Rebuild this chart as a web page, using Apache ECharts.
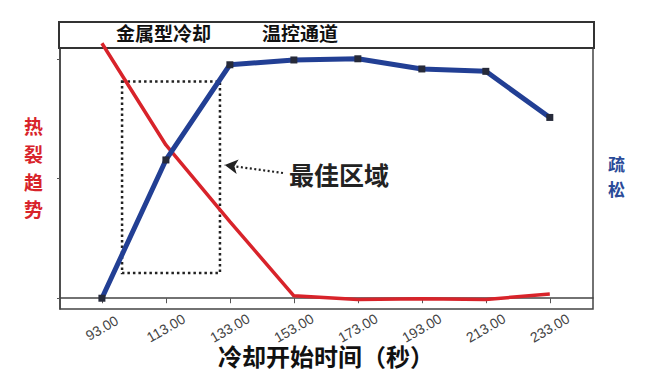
<!DOCTYPE html>
<html><head><meta charset="utf-8">
<script src="https://cdn.jsdelivr.net/npm/echarts@6/dist/echarts.min.js"></script>
<style>html,body{margin:0;padding:0;background:#fff}#c{width:652px;height:384px}</style>
</head><body><div id="c"></div>
<script>
const times = [93, 113, 133, 153, 173, 193, 213, 233];
const crackTrend = [2.13, 1.28, 0.64, 0.02, -0.01, -0.005, -0.01, 0.035];
const looseness = [0.0, 1.155, 1.95, 1.99, 2.0, 1.915, 1.895, 1.51];
const yTicks = [0, 1, 2];
const bestZone = [[99.3, 1.81], [129.9, 0.21]];
const arrowFromTo = [[149.6, 1.046], [131.4, 1.113]];
const leftName = ['热', '裂', '趋', '势'];
const rightName = ['疏', '松'];

const cjk = '"Noto Sans CJK SC", sans-serif';
const chart = echarts.init(document.getElementById('c'), null, {renderer: 'svg'});
const graphics = [
  {type: 'rect', shape: {x: 59, y: 22, width: 535, height: 26}, style: {fill: '#fff', stroke: '#333', lineWidth: 2}, z: 1},
  {type: 'text', left: 116, top: 23, style: {text: '金属型冷却', fontSize: 19, fontWeight: 'bold', fill: '#111', fontFamily: cjk}, z: 2},
  {type: 'text', left: 262, top: 23, style: {text: '温控通道', fontSize: 19, fontWeight: 'bold', fill: '#111', fontFamily: cjk}, z: 2},
  {type: 'text', left: 289, top: 161, style: {text: '最佳区域', fontSize: 25, fontWeight: 'bold', fill: '#222', fontFamily: cjk}},
  {type: 'text', left: 218, top: 343, style: {text: '冷却开始时间（秒）', fontSize: 24, fontWeight: 'bold', fill: '#111', fontFamily: cjk}}
];
leftName.forEach((ch, i) => graphics.push({type: 'text', left: 24, top: 116 + i * 27.8,
  style: {text: ch, fontSize: 19, lineHeight: 19, fontWeight: 'bold', fill: '#d8232a', fontFamily: cjk}}));
rightName.forEach((ch, i) => graphics.push({type: 'text', left: 608, top: 155 + i * 24.8,
  style: {text: ch, fontSize: 17, lineHeight: 17, fontWeight: 'bold', fill: '#2a4a98', fontFamily: cjk}}));

chart.setOption({
  animation: false,
  grid: {left: 60, right: 59, top: 48, bottom: 75, show: true, borderColor: '#444', borderWidth: 1.5, backgroundColor: 'transparent'},
  xAxis: {
    type: 'value', min: 79.9, max: 246.5,
    axisLine: {show: true, lineStyle: {color: '#444', width: 1.5}},
    axisTick: {show: true, length: 5, lineStyle: {color: '#555'}, customValues: times},
    axisLabel: {customValues: times, rotate: 30, margin: 19, align: 'center', verticalAlign: 'middle',
      color: '#444', fontSize: 14, fontFamily: '"Liberation Sans", Arial, sans-serif',
      formatter: v => v.toFixed(2)},
    splitLine: {show: false}
  },
  yAxis: {
    type: 'value', min: -0.09, max: 2.09,
    axisLine: {show: true, lineStyle: {color: '#444', width: 1.5}},
    axisTick: {show: true, length: 3, lineStyle: {color: '#555'}, customValues: yTicks},
    axisLabel: {show: false},
    splitLine: {show: false}
  },
  series: [
    {
      type: 'line', name: '热裂趋势', data: times.map((t, i) => [t, crackTrend[i]]),
      showSymbol: false, clip: false, lineStyle: {color: '#d8232a', width: 3.5}, itemStyle: {color: '#d8232a'},
      z: 3
    },
    {
      type: 'line', name: '疏松', data: times.map((t, i) => [t, looseness[i]]),
      symbol: 'rect', symbolSize: 7, showSymbol: true, clip: false,
      lineStyle: {color: '#223f94', width: 5}, itemStyle: {color: '#262a3a'},
      z: 4,
      markArea: {
        silent: true,
        itemStyle: {color: 'rgba(0,0,0,0)', borderColor: '#222', borderWidth: 2.5, borderType: [2.5, 3]},
        data: [[{coord: bestZone[0]}, {coord: bestZone[1]}]]
      },
      markLine: {
        silent: true, symbol: ['none', 'arrow'], symbolSize: [11, 13],
        label: {show: false},
        lineStyle: {color: '#222', width: 2.2, type: [2, 2.5]},
        data: [[{coord: arrowFromTo[0]}, {coord: arrowFromTo[1]}]]
      }
    }
  ],
  graphic: graphics
});
</script></body></html>
